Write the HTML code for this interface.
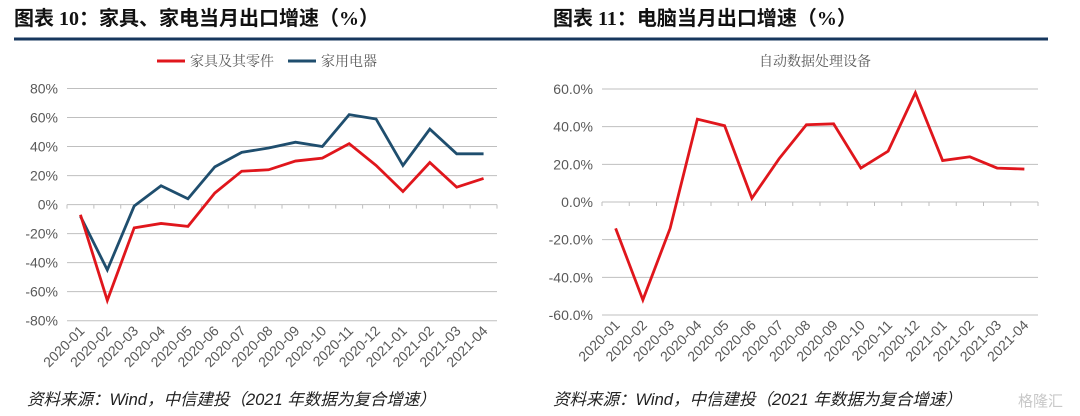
<!DOCTYPE html>
<html><head><meta charset="utf-8">
<style>
html,body{margin:0;padding:0;background:#fff;}
svg{display:block;font-family:"Liberation Sans","Noto Sans CJK SC",sans-serif;}
.title{font-family:"Liberation Serif","Noto Sans CJK SC",sans-serif;font-weight:bold;font-size:20px;fill:#111;}
.tick{font-size:14px;fill:#595959;}
.leg{font-family:"Liberation Serif","Noto Serif CJK SC",serif;font-size:14px;fill:#595959;}
.src{font-family:"Liberation Sans","Noto Sans CJK SC",sans-serif;font-style:italic;font-size:16.5px;fill:#222;}
</style></head>
<body>
<svg id="svg" width="1080" height="416" viewBox="0 0 1080 416" xmlns="http://www.w3.org/2000/svg">
<text class="title" x="14" y="25">图表 10：家具、家电当月出口增速（%）</text>
<text class="title" x="553" y="25">图表 11：电脑当月出口增速（%）</text>
<line x1="14" y1="39" x2="1048" y2="39" stroke="#17375e" stroke-width="3"/>
<g id="left"></g>
<g id="right"></g>
<text class="src" x="27" y="405">资料来源：Wind，中信建投（2021 年数据为复合增速）</text>
<text class="src" x="553" y="405">资料来源：Wind，中信建投（2021 年数据为复合增速）</text>
<text x="1018" y="406" font-size="15" fill="#c8c8c8">格隆汇</text>
</svg>
<script>
const categories = ["2020-01","2020-02","2020-03","2020-04","2020-05","2020-06","2020-07","2020-08","2020-09","2020-10","2020-11","2020-12","2021-01","2021-02","2021-03","2021-04"];
const furnitureValues = [-7,-66,-16,-13,-15,8,23,24,30,32,42,27,9,29,12,18];
const applianceValues = [-8,-45,-1,13,4,26,36,39,43,40,62,59,27,52,35,35];
const computerValues = [-14,-52,-14,44,40.5,2,23,41,41.5,18,27,58,22,24,18,17.5];
const leftTicks = [80,60,40,20,0,-20,-40,-60,-80];
const rightTicks = [60,40,20,0,-20,-40,-60];
const NS = "http://www.w3.org/2000/svg";
function mk(parent, tag, attrs){const e=document.createElementNS(NS,tag);for(const k in attrs)e.setAttribute(k,attrs[k]);parent.appendChild(e);return e;}

function drawChart(g, cfg){
  const {x0,x1,yTop,yBot,vMax,vMin,ticks,fmt,series} = cfg;
  const n = categories.length, bw=(x1-x0)/n;
  const xs = i => x0 + bw*(i+0.5);
  const ys = v => yTop + (vMax - v)/(vMax - vMin)*(yBot - yTop);
  ticks.forEach(t=>{
    const ln = mk(g,"line",{x1:x0,x2:x1,y1:ys(t),y2:ys(t),stroke:"#bfbfbf","stroke-width":1});
    
    
    const tx = mk(g,"text",{x:x0-9,y:ys(t)+5,"text-anchor":"end",class:"tick"});
    tx.textContent = fmt(t);
    
    
  });
  const y0 = ys(0);
  for(let i=0;i<=n;i++){
    const tk = mk(g,"line",{x1:x0+bw*i,x2:x0+bw*i,y1:y0,y2:y0+4,stroke:"#bfbfbf","stroke-width":1});
    
    
  }
  categories.forEach((c,i)=>{
    const cx = xs(i)+5, cy = yBot+11;
    const tx = mk(g,"text",{x:cx,y:cy,"text-anchor":"end",class:"tick",transform:`rotate(-45 ${cx} ${cy})`});
    tx.textContent = c;
    
    
  });
  series.forEach(s=>{
    const p = mk(g,"polyline",{points:s.values.map((v,i)=>xs(i)+","+ys(v)).join(" "),fill:"none",stroke:s.color,"stroke-width":2.8,"stroke-linejoin":"miter"});
    
    
  });
}
const left = document.getElementById("left"), right = document.getElementById("right");
drawChart(left,{x0:67,x1:497,yTop:88.5,yBot:320.7,vMax:80,vMin:-80,ticks:leftTicks,fmt:t=>t+"%",
  series:[{values:applianceValues,color:"#1f4e6e",name:"appliance-line"},{values:furnitureValues,color:"#e0161c",name:"furniture-line"}]});
drawChart(right,{x0:602,x1:1038,yTop:89,yBot:315,vMax:60,vMin:-60,ticks:rightTicks,fmt:t=>t.toFixed(1)+"%",
  series:[{values:computerValues,color:"#e0161c",name:"computer-line"}]});
// legends
let l1 = mk(left,"line",{x1:157,x2:185,y1:61,y2:61,stroke:"#e0161c","stroke-width":3});


let t1 = mk(left,"text",{x:190,y:66,class:"leg"}); t1.textContent="家具及其零件";


let l2 = mk(left,"line",{x1:288,x2:316,y1:61,y2:61,stroke:"#1f4e6e","stroke-width":3});


let t2 = mk(left,"text",{x:321,y:66,class:"leg"}); t2.textContent="家用电器";


let t3 = mk(right,"text",{x:815,y:66,class:"leg","text-anchor":"middle"}); t3.textContent="自动数据处理设备";


</script>
</body></html>
